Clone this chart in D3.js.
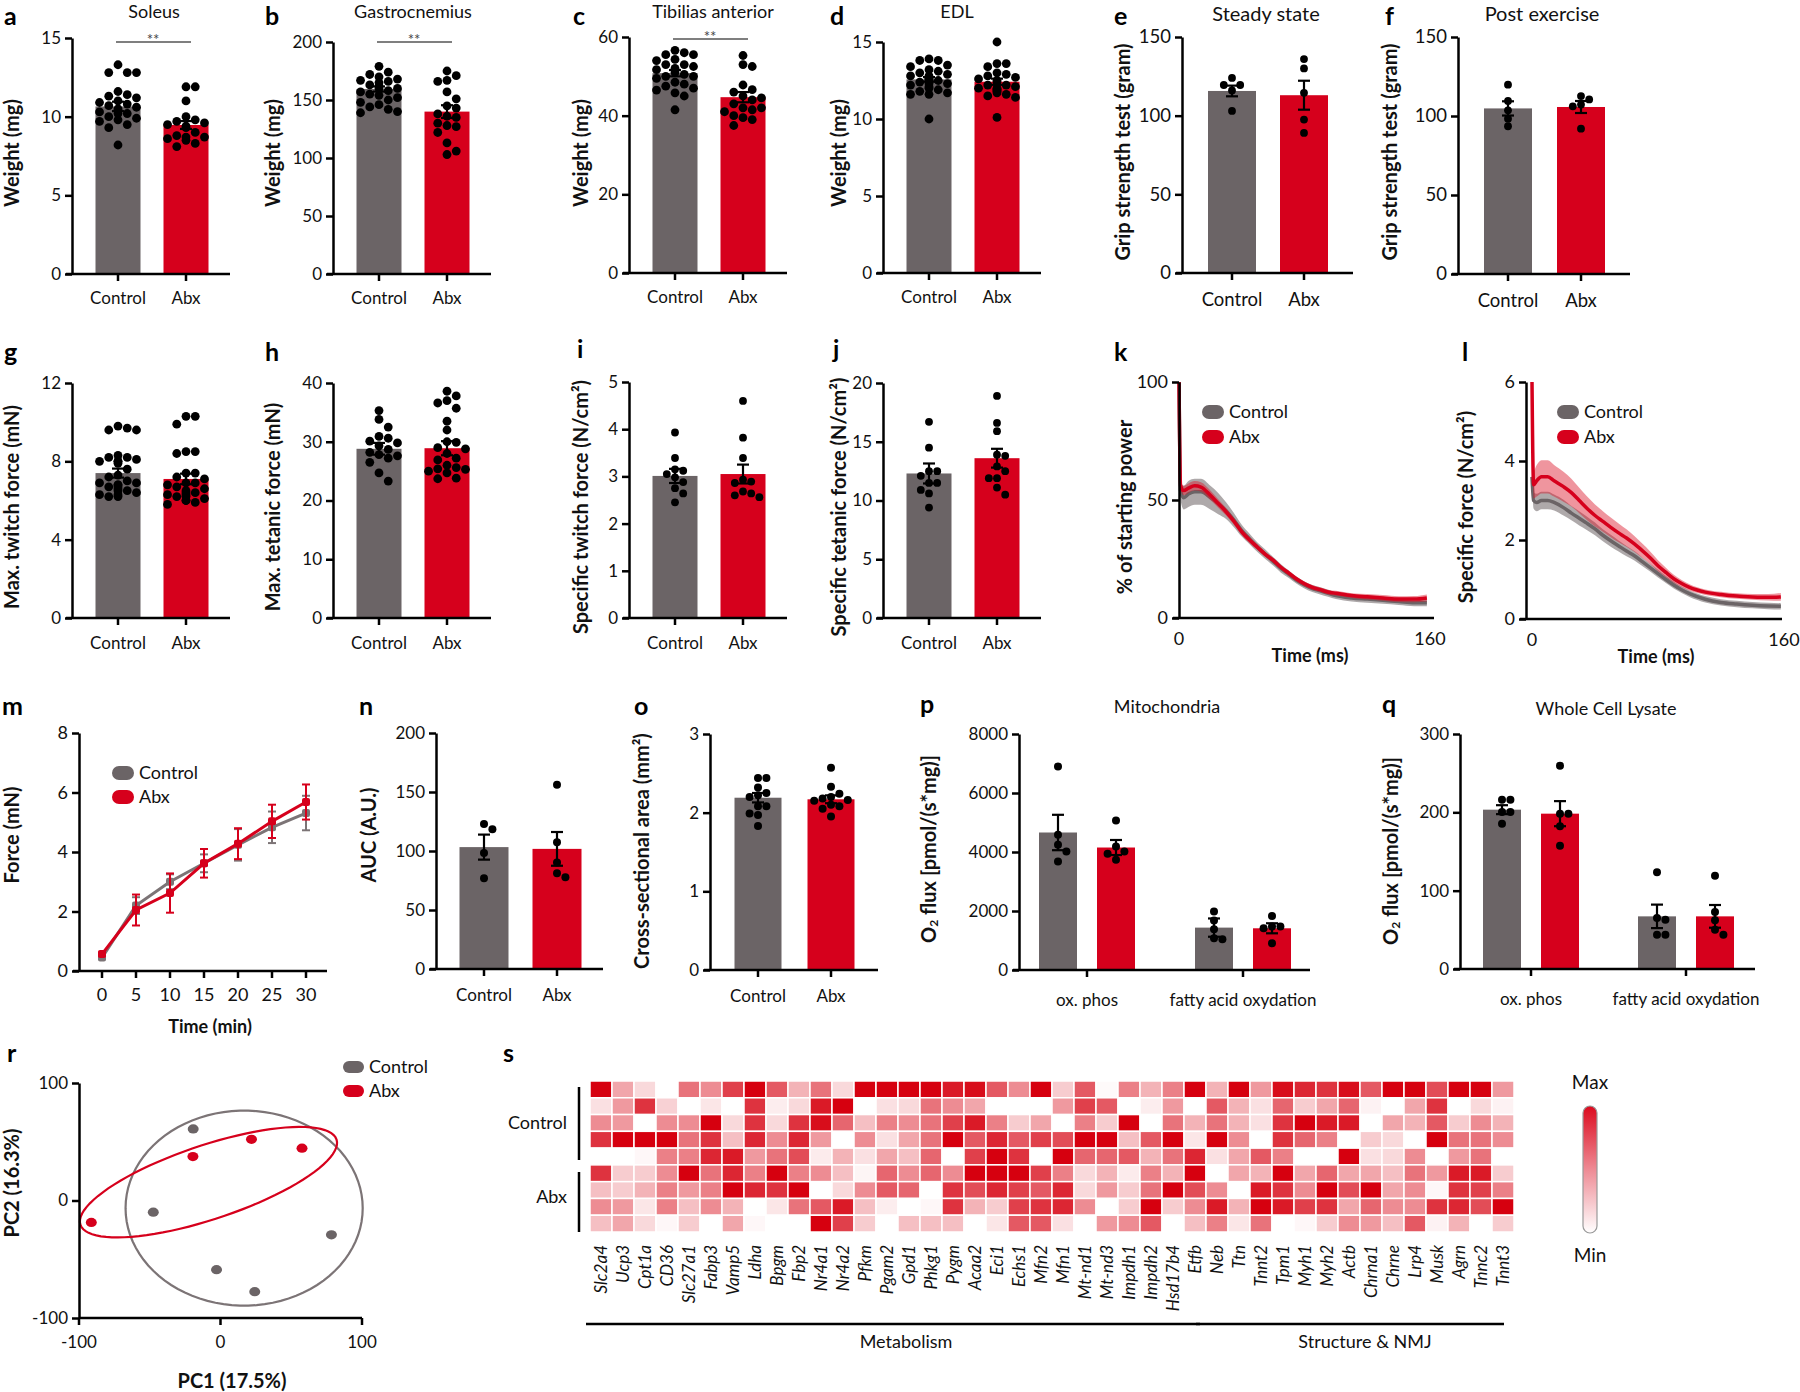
<!DOCTYPE html>
<html><head><meta charset="utf-8">
<script src="https://cdn.jsdelivr.net/npm/d3@7"></script>
<style>body{margin:0;background:#fff}</style>
</head><body>
<svg id="c" width="1800" height="1392" xmlns="http://www.w3.org/2000/svg"></svg>
<script>
// ---------------- DATA ----------------
const groups = ["Control", "Abx"];
// a Soleus
const soleusCtrl = [13.3,12.8,12.8,12.8,11.6,11.4,11.3,11.2,11.0,10.9,10.8,10.7,10.6,10.5,10.4,10.3,10.2,10.2,10.0,9.9,9.8,9.7,9.5,9.3,8.2];
const soleusAbx = [11.9,11.9,11.0,10.0,9.8,9.7,9.6,9.5,9.4,9.3,9.0,8.8,8.7,8.7,8.6,8.5,8.3,8.1];
const soleusMean = [10.65, 9.47], soleusSem = [0.3, 0.25];
// b Gastrocnemius
const gastroCtrl = [179,174,172,170,168,167,166,165,163,162,160,160,158,157,155,154,152,150,148,146,144,142,140,139];
const gastroAbx = [175,171,167,166,157,151,145,143,138,136,135,130,128,127,122,113,106,103];
const gastroMean = [159.5, 140], gastroSem = [2.2, 5.5];
// c Tibialis anterior
const tibCtrl = [56.6,56,55.5,55.5,54.3,54,53,53,52.5,52,51.7,51,50.5,50,50,49.5,48.5,48,47.5,47,46.5,45.8,45,41.5];
const tibAbx = [55.3,53,52.5,47.8,46.6,46,45,44.5,44,43,42,42,41.5,41,40,39.5,39,37.5];
const tibMean = [50.8, 44.7], tibSem = [0.8, 1.3];
// d EDL
const edlCtrl = [13.9,13.8,13.8,13.5,13.4,13.2,13.1,13.0,12.9,12.8,12.8,12.7,12.6,12.6,12.5,12.5,12.4,12.3,12.3,12.2,12.1,12.0,11.9,11.8,11.7,11.6,11.6,10.0];
const edlAbx = [15.0,13.6,13.6,13.4,13.0,12.9,12.8,12.7,12.6,12.5,12.4,12.2,12.2,12.1,12.0,12.0,11.9,11.9,11.8,11.7,11.6,11.5,11.4,10.1];
const edlMean = [12.57, 12.42], edlSem = [0.15, 0.2];
// e / f grip strength
const gripSteadyCtrl = [124,119.5,119.5,116,103];
const gripSteadyAbx = [136,130,114.5,97.5,89];
const gripSteadyMean = [115.7, 113], gripSteadySem = [3.4, 9.2];
const gripPostCtrl = [119.8,109.5,103.6,98.3,93.5];
const gripPostAbx = [112.6,110.5,107.2,106.1,92];
const gripPostMean = [104.8, 105.7], gripPostSem = [4.5, 3.8];
// g twitch
const twitchCtrl = [9.8,9.7,9.6,9.6,8.3,8.2,8.2,8.1,8.0,8.0,8.0,7.9,7.6,7.3,7.2,7.0,6.9,6.9,6.8,6.8,6.7,6.7,6.6,6.5,6.5,6.4,6.3,6.3,6.2,6.2];
const twitchAbx = [10.3,10.3,9.9,8.5,8.5,8.4,7.4,7.4,7.2,7.1,6.9,6.9,6.8,6.7,6.6,6.5,6.4,6.4,6.3,6.3,6.2,6.2,6.1,6.0,6.0,5.9,5.8];
const twitchMean = [7.4, 7.1], twitchSem = [0.23, 0.27];
// h tetanic
const tetCtrl = [35.3,33.8,32.5,30.9,30.6,30.1,29.8,29.3,28.7,28.2,27.8,27.6,27.2,26.5,24.7,23.3];
const tetAbx = [38.6,37.8,37.0,36.6,35.7,33.5,32.0,30.0,29.9,29.0,28.8,28.0,27.2,26.9,26.0,25.6,25.4,25.3,25.0,24.7,23.8,23.7];
const tetMean = [28.8, 28.9], tetSem = [1.0, 1.2];
// i specific twitch
const spTwCtrl = [3.93,3.39,3.15,3.12,3.05,2.98,2.88,2.75,2.64,2.45];
const spTwAbx = [4.6,3.82,3.39,2.93,2.89,2.86,2.68,2.64,2.6,2.56];
const spTwMean = [3.01, 3.05], spTwSem = [0.15, 0.2];
// j specific tetanic
const spTetCtrl = [16.7,14.5,12.5,12.5,12.1,11.5,11.5,10.9,10.6,9.4];
const spTetAbx = [18.9,16.6,15.9,13.9,13.8,12.9,12.5,11.9,11.9,11.1,10.5];
const spTetMean = [12.3, 13.6], spTetSem = [0.85, 0.8];
// k, l force decay curves
const decayTime = [0,1,3,6,10,14,20,25,30,35,40,45,50,55,60,65,70,75,80,85,90,95,100,110,120,130,140,150,158];
const powerAbx = [100,56,54,55,56,55.5,52,48.5,45,41,36.5,33,30,27,24.5,21.5,19,16.5,14.5,13,12,11,10.5,9.5,9,8.5,8,8,8.5];
const powerCtrl = [100,54,51,52.5,53.5,53.5,51,48.5,45.5,41.5,37,33.5,30,27,24,21,18.5,16,14,12.5,11.5,10.5,9.5,8.5,8,7.5,7,6.5,6.5];
const powerAbxSem = [0,2,2,2,2,2,2,1.8,1.6,1.5,1.4,1.3,1.2,1.1,1,1,1,1,1,1,1,1,1,1,1.2,1.2,1.2,1.3,1.5];
const powerCtrlSem = [0,4,5,5.5,5.5,5.5,5,4.5,3.5,3,2.5,2.2,2,2,1.8,1.8,1.6,1.5,1.5,1.5,1.5,1.5,1.5,1.5,1.5,1.5,1.5,1.5,1.5];
const spForceAbx = [6.0,3.4,3.5,3.6,3.6,3.5,3.35,3.2,3.0,2.8,2.62,2.47,2.32,2.18,2.05,1.9,1.73,1.55,1.35,1.18,1.02,0.9,0.8,0.68,0.62,0.58,0.56,0.55,0.56];
const spForceCtrl = [3.6,3.0,2.95,3.0,3.0,2.95,2.82,2.68,2.55,2.42,2.28,2.12,1.98,1.85,1.72,1.6,1.45,1.3,1.15,1.0,0.86,0.74,0.64,0.5,0.42,0.38,0.35,0.33,0.32];
const spForceAbxSem = [0,0.35,0.4,0.42,0.42,0.4,0.38,0.35,0.32,0.3,0.28,0.26,0.25,0.24,0.22,0.2,0.18,0.16,0.14,0.12,0.1,0.09,0.08,0.07,0.07,0.07,0.07,0.08,0.1];
const spForceCtrlSem = [0,0.2,0.22,0.22,0.22,0.2,0.2,0.18,0.18,0.17,0.16,0.15,0.15,0.14,0.13,0.12,0.11,0.1,0.1,0.09,0.09,0.08,0.08,0.08,0.08,0.08,0.08,0.08,0.08];
// m fatigue
const fatigueTime = [0,5,10,15,20,25,30];
const fatigueCtrl = [0.45,2.2,3.0,3.62,4.24,4.83,5.31];
const fatigueCtrlSem = [0.05,0.28,0.25,0.3,0.53,0.53,0.58];
const fatigueAbx = [0.57,2.05,2.62,3.62,4.28,5.03,5.68];
const fatigueAbxSem = [0.05,0.52,0.66,0.48,0.52,0.56,0.59];
// n AUC
const aucCtrl = [122.8,118.5,98.2,77], aucAbx = [156.2,107.5,90.2,81.2,77.8];
const aucMean = [103.3, 101.8], aucSem = [10.6, 14.3];
// o CSA
const csaCtrl = [2.44,2.44,2.32,2.25,2.22,2.2,2.08,2.08,1.99,1.97,1.83];
const csaAbx = [2.57,2.33,2.24,2.2,2.18,2.16,2.15,2.1,2.08,2.05,1.95];
const csaMean = [2.19, 2.17], csaSem = [0.06, 0.05];
// p, q respirometry
const respCats = ["ox. phos", "fatty acid oxydation"];
const mitoMeanCtrl = [4661, 1437], mitoMeanAbx = [4152, 1414];
const mitoSemCtrl = [600, 310], mitoSemAbx = [255, 170];
const mitoOxCtrl = [6902,4582,4243,4016,3677], mitoOxAbx = [5069,4186,4016,3937,3734];
const mitoFaCtrl = [1980,1674,1380,1075,1040], mitoFaAbx = [1833,1471,1471,1414,905];
const lysMeanCtrl = [203.4, 67.2], lysMeanAbx = [198.3, 67.2];
const lysSemCtrl = [5.7, 15], lysSemAbx = [16, 14.5];
const lysOxCtrl = [216.2,216.2,200.4,200.4,185.5], lysOxAbx = [259.6,198.3,198.3,182.1,157.4];
const lysFaCtrl = [123.4,65.1,63,43.8,43.8], lysFaAbx = [119.1,72.8,62.1,50.2,43.8];
// r PCA
const pcaCtrlX = [-19.3,-47.5,-2.8,24.2,78.4], pcaCtrlY = [60.9,-9.9,-58.9,-77.6,-29.2];
const pcaAbxX = [-91.3,-19.5,21.9,57.6], pcaAbxY = [-18.7,37.4,52.1,44.5];
const ellipseCtrl = {c:[16.7,-6.5], u:[83.8,0], v:[0,83]};
const ellipseAbx = {c:[-8.5,15.6], u:[90.5,36.3], v:[8.3,-29.9]};
// s heatmap
const genes = ["Slc2a4","Ucp3","Cpt1a","CD36","Slc27a1","Fabp3","Vamp5","Ldha","Bpgm","Fbp2","Nr4a1","Nr4a2","Pfkm","Pgam2","Gpd1","Phkg1","Pygm","Acaa2","Eci1","Echs1","Mfn2","Mfn1","Mt-nd1","Mt-nd3","Impdh1","Impdh2","Hsd17b4","Etfb","Neb","Ttn","Tnnt2","Tpm1","Myh1","Myh2","Actb","Chrna1","Chrne","Lrp4","Musk","Agrn","Tnnc2","Tnnt3"];
const sampleRows = ["C1","C2","C3","C4","C5","A1","A2","A3","A4"];
const heatValues = [
 [1.0,0.35,0.15,0,0.55,0.45,0.75,1.0,0.65,0.3,0.55,0.15,1.0,1.0,1.0,1.0,0.9,0.95,0.65,0.45,1.0,0.2,0.65,0.02,0.5,0.3,0.5,1.0,0.3,1.0,0.4,0.95,0.85,0.8,0.95,0.65,1.0,1.0,0.7,1.0,1.0,0.4],
 [0.12,0.4,0.8,0.18,0,0.1,0,0.8,0.07,0.15,0.9,1.0,0,0.12,0.15,0.55,0.45,0.35,0,0,0,0.4,0.75,0.65,0,0.07,0.4,0,0.65,0.3,0.12,0.6,0.2,0.35,0.6,0.05,0,0.35,0.8,0,0.15,0.05],
 [0.45,0.4,0,0.45,0.45,1.0,0.15,0.8,0.15,0.8,0.95,0.6,0.25,0.5,0.45,0.55,0.75,0.9,0.5,0.2,0.35,0,0.5,0.2,1.0,0,0.55,0.3,0.55,0.3,0.12,0.8,1.0,0.9,0.9,0,0.35,0.3,0.65,0.2,0.45,0.3],
 [0.8,1.0,1.0,1.0,0.55,0.8,0.25,0.85,0.45,0.85,0.4,0,0.45,0.12,0.35,0.55,1.0,0.65,0.85,0.65,0.75,0.7,1.0,1.0,0.25,0.65,1.0,0.1,1.0,0.45,0,0.8,0.6,0.5,0,0.2,0.15,0,1.0,0.55,0.55,0.45],
 [0,0,0.03,0.5,0.5,0.85,0.9,0.4,0.55,0.7,0.08,0.3,0.12,0.35,0.25,0.6,0,0.75,1.0,0.8,0,1.0,0.6,0.6,0.65,0.3,0.55,0.85,0.12,0.35,0.65,0.5,0,0,1.0,0.12,0.15,0.45,0,0.4,0.55,0],
 [0.8,0.2,0.2,0.45,1.0,0.55,0.85,0.5,1.0,0.5,0.45,0.25,0.04,0.6,0.45,0.6,0.45,1.0,1.0,1.0,0.75,0.5,0.15,0.3,0.08,0.5,0.3,1.0,0,0.35,0.3,1.0,0.35,0.6,0.35,0.35,0.25,0.55,0.4,0.9,0.9,0.2],
 [0.25,0.2,0.3,0.5,0.4,0.5,1.0,0.85,0.8,1.0,0,0.15,0.45,0.65,0.6,0,0.8,0.7,0.85,0.75,0.65,0.85,0.15,0.4,0.2,0.55,1.0,0.7,0.45,0,0.9,0.8,0.45,1.0,0.7,1.0,0.35,0.45,0.03,0.8,0.75,0.5],
 [0.45,0.4,0.1,0.5,0.25,0.45,0.3,0,0.1,0.55,0.65,0.9,0.25,0.07,0,0.03,0.8,0.3,0.2,0.75,0.8,0.85,0.45,0,0.2,1.0,0.2,0.45,0.9,0.3,1.0,0.9,0.75,0.8,0.35,0.6,0.45,0.45,0.8,0.85,0.7,1.0],
 [0.25,0.35,0.15,0.03,0.2,0,0.35,0.03,0,0,1.0,0.75,0.2,0,0.25,0.25,0.25,0,0.1,0.65,0.65,0.12,0,0.4,0.45,0.65,0,0.25,0.5,0.1,0.55,0,0.03,0.2,0.45,0.4,0.25,0.65,0.05,0.3,0,0.2]
];
const metabolismGenes = genes.slice(0, 28), structureGenes = genes.slice(28);

// ---------------- DRAWING ----------------
const svg = d3.select("#c");
const FONT = "Lato, 'Open Sans', 'DejaVu Sans', sans-serif";
const GRAY = "#6b6466", RED = "#d6001c", LINEGRAY = "#7c7476";
const TICK = 17, YLAB = 20;
const plain = d => String(d);

function txt(g, x, y, s, o = {}) {
  const t = g.append("text").attr("x", x).attr("y", y).text(s)
    .attr("font-family", FONT).attr("font-size", o.size || TICK).attr("fill", o.fill || "#111");
  if (o.anchor) t.attr("text-anchor", o.anchor);
  if (o.weight) t.attr("font-weight", o.weight);
  if (o.style) t.attr("font-style", o.style);
  if (o.base) t.attr("dominant-baseline", o.base);
  if (o.rot != null) t.attr("transform", `rotate(${o.rot},${x},${y})`);
  return t;
}
function ylab(g, x, y, s) { return txt(g, x, y, s, {anchor: "middle", rot: -90, weight: 700, size: YLAB, base: "central"}); }
function letter(g, x, y, s) { return txt(g, x, y, s, {weight: 700, size: 25, fill: "#000"}); }
function styleAxis(g, size) {
  g.select(".domain").attr("stroke", "#000").attr("stroke-width", 2.5);
  g.selectAll(".tick line").attr("stroke", "#000").attr("stroke-width", 2.5);
  g.selectAll(".tick text").attr("font-size", size || TICK).attr("font-family", FONT).attr("fill", "#111");
}
function yAxis(g, ax, y, ticks, size) {
  const a = d3.axisLeft(y).tickValues(ticks).tickSize(7).tickSizeOuter(0).tickPadding(4).tickFormat(plain);
  const ag = g.append("g").attr("transform", `translate(${ax},0)`).call(a);
  styleAxis(ag, size);
  return ag;
}
function hline(g, x1, x2, y, w = 2.5, c = "#000") {
  g.append("line").attr("x1", x1).attr("x2", x2).attr("y1", y).attr("y2", y).attr("stroke", c).attr("stroke-width", w);
}
function vline(g, x, y1, y2, w = 2.5, c = "#000") {
  g.append("line").attr("x1", x).attr("x2", x).attr("y1", y1).attr("y2", y2).attr("stroke", c).attr("stroke-width", w);
}
function swarm(vals, cx, y, r, maxOff) {
  const placed = [];
  const step = r * 2.1;
  return vals.slice().sort((a, b) => b - a).map(v => {
    const py = y(v);
    let best = null;
    for (let k = 0; k < 30 && !best; k++) {
      const off = k === 0 ? 0 : (k % 2 ? 1 : -1) * Math.ceil(k / 2) * step;
      if (Math.abs(off) > maxOff) continue;
      const px = cx + off;
      if (placed.every(p => Math.hypot(p[0] - px, p[1] - py) >= 2 * r * 0.97)) best = [px, py];
    }
    if (!best) best = [cx, py];
    placed.push(best);
    return best;
  });
}
function errBar(g, cx, y, m, s, cap = 12, col = "#000", w = 2.2) {
  vline(g, cx, y(m - s), y(m + s), w, col);
  hline(g, cx - cap / 2, cx + cap / 2, y(m + s), w, col);
  hline(g, cx - cap / 2, cx + cap / 2, y(m - s), w, col);
}
function dots(g, pts, r, fill = "#000") {
  g.selectAll(null).data(pts).enter().append("circle")
    .attr("cx", d => d[0]).attr("cy", d => d[1]).attr("r", r).attr("fill", fill);
}

function barPanel(o) {
  const g = svg.append("g");
  const y = d3.scaleLinear().domain([0, o.max]).range([o.y0, o.yTop]);
  const x = d3.scalePoint().domain(groups).range([o.ax + o.c1, o.ax + o.c2]);
  groups.forEach((k, i) => {
    g.append("rect").attr("x", x(k) - o.bw / 2).attr("width", o.bw)
      .attr("y", y(o.mean[i])).attr("height", o.y0 - y(o.mean[i])).attr("fill", [GRAY, RED][i]);
  });
  groups.forEach((k, i) => {
    errBar(g, x(k), y, o.mean[i], o.sem[i]);
    dots(g, swarm(o.pts[i], x(k), y, o.r, o.bw / 2 - o.r * 0.6), o.r);
  });
  yAxis(g, o.ax, y, o.ticks, o.fs);
  hline(g, o.ax - 6, o.ax + o.end, o.y0);
  groups.forEach(k => {
    vline(g, x(k), o.y0, o.y0 + 7);
    txt(g, x(k), o.y0 + o.lblOff, k, {anchor: "middle", size: o.fs || TICK});
  });
  ylab(g, o.ylx, o.yly, o.ylabel);
  if (o.title) txt(g, o.tx, o.ty, o.title, {anchor: "middle", size: o.tsize || 18});
  letter(g, o.lx, o.ly, o.letter);
  if (o.sigY) {
    hline(g, x("Control") - 2, x("Abx") + 5, o.sigY, 1.6, "#555");
    txt(g, (x("Control") + x("Abx")) / 2 + 1, o.sigY + 3, "**", {anchor: "middle", size: 15, fill: "#444"});
  }
  return g;
}

const row1 = {y0: 274, c1: 46, c2: 114, end: 158, bw: 45, r: 4.4, lblOff: 30, ly: 25, ty: 18, yly: 153};
barPanel({...row1, ax: 72, yTop: 38, max: 15, ticks: [0,5,10,15], mean: soleusMean, sem: soleusSem, pts: [soleusCtrl, soleusAbx],
  ylabel: "Weight (mg)", ylx: 11, title: "Soleus", tx: 154, letter: "a", lx: 4, sigY: 42});
barPanel({...row1, ax: 333, yTop: 42, max: 200, ticks: [0,50,100,150,200], mean: gastroMean, sem: gastroSem, pts: [gastroCtrl, gastroAbx],
  ylabel: "Weight (mg)", ylx: 272, title: "Gastrocnemius", tx: 413, letter: "b", lx: 265, sigY: 42});
barPanel({...row1, ax: 629, y0: 273, yTop: 37, max: 60, ticks: [0,20,40,60], mean: tibMean, sem: tibSem, pts: [tibCtrl, tibAbx],
  ylabel: "Weight (mg)", ylx: 580, title: "Tibilias anterior", tx: 713, letter: "c", lx: 573, sigY: 39});
barPanel({...row1, ax: 883, y0: 273, yTop: 42, max: 15, ticks: [0,5,10,15], mean: edlMean, sem: edlSem, pts: [edlCtrl, edlAbx],
  ylabel: "Weight (mg)", ylx: 838, title: "EDL", tx: 957, letter: "d", lx: 830});
barPanel({...row1, ax: 1182, y0: 273, yTop: 37, max: 150, ticks: [0,50,100,150], c1: 50, c2: 122, end: 171, bw: 48, r: 3.9, fs: 18.5,
  mean: gripSteadyMean, sem: gripSteadySem, pts: [gripSteadyCtrl, gripSteadyAbx],
  ylabel: "Grip strength test (gram)", ylx: 1122, yly: 152, title: "Steady state", tx: 1266, ty: 21, tsize: 20, letter: "e", lx: 1114, lblOff: 33});
barPanel({...row1, ax: 1458, y0: 274, yTop: 37, max: 150, ticks: [0,50,100,150], c1: 50, c2: 123, end: 172, bw: 48, r: 3.9, fs: 18.5,
  mean: gripPostMean, sem: gripPostSem, pts: [gripPostCtrl, gripPostAbx],
  ylabel: "Grip strength test (gram)", ylx: 1389, yly: 152, title: "Post exercise", tx: 1542, ty: 21, tsize: 20, letter: "f", lx: 1385, lblOff: 33});

const row2 = {y0: 618, yTop: 383, c1: 46, c2: 114, end: 158, bw: 45, r: 4.4, lblOff: 31, ly: 361, yly: 507};
barPanel({...row2, ax: 72, max: 12, ticks: [0,4,8,12], mean: twitchMean, sem: twitchSem, pts: [twitchCtrl, twitchAbx],
  ylabel: "Max. twitch force (mN)", ylx: 11, letter: "g", lx: 4});
barPanel({...row2, ax: 333, max: 40, ticks: [0,10,20,30,40], mean: tetMean, sem: tetSem, pts: [tetCtrl, tetAbx],
  ylabel: "Max. tetanic force (mN)", ylx: 272, letter: "h", lx: 265});
barPanel({...row2, ax: 629, yTop: 382, max: 5, ticks: [0,1,2,3,4,5], r: 3.9, mean: spTwMean, sem: spTwSem, pts: [spTwCtrl, spTwAbx],
  ylabel: "Specific twitch force (N/cm²)", ylx: 580, letter: "i", lx: 577, ly: 358});
barPanel({...row2, ax: 883, max: 20, ticks: [0,5,10,15,20], r: 3.9, mean: spTetMean, sem: spTetSem, pts: [spTetCtrl, spTetAbx],
  ylabel: "Specific tetanic force (N/cm²)", ylx: 838, letter: "j", lx: 833, ly: 358});

const row3 = {c1: 48, c2: 121, r: 4, lblOff: 32, ly: 715};
barPanel({...row3, ax: 436, y0: 969, yTop: 733, max: 200, ticks: [0,50,100,150,200], end: 167, bw: 49,
  mean: aucMean, sem: aucSem, pts: [aucCtrl, aucAbx], ylabel: "AUC (A.U.)", ylx: 368, yly: 835, letter: "n", lx: 359});
barPanel({...row3, ax: 710, y0: 970, yTop: 734, max: 3, ticks: [0,1,2,3], end: 168, bw: 47,
  mean: csaMean, sem: csaSem, pts: [csaCtrl, csaAbx], ylabel: "Cross-sectional area (mm²)", ylx: 641, yly: 851, letter: "o", lx: 634});

// grouped panels p, q
function groupedPanel(o) {
  const g = svg.append("g");
  const y = d3.scaleLinear().domain([0, o.max]).range([o.y0, o.yTop]);
  const xc = d3.scalePoint().domain(respCats).range([o.ax + o.c1, o.ax + o.c2]);
  const xg = d3.scalePoint().domain(groups).range([-o.off, o.off]);
  respCats.forEach((cat, ci) => {
    groups.forEach((gr, gi) => {
      const cx = xc(cat) + xg(gr);
      const m = o.mean[gi][ci];
      g.append("rect").attr("x", cx - o.bw / 2).attr("width", o.bw).attr("y", y(m)).attr("height", o.y0 - y(m)).attr("fill", [GRAY, RED][gi]);
    });
  });
  respCats.forEach((cat, ci) => {
    groups.forEach((gr, gi) => {
      const cx = xc(cat) + xg(gr);
      errBar(g, cx, y, o.mean[gi][ci], o.sem[gi][ci]);
      dots(g, swarm(o.pts[gi][ci], cx, y, o.r, o.bw / 2 - 3), o.r);
    });
  });
  yAxis(g, o.ax, y, o.ticks);
  hline(g, o.ax - 6, o.ax + o.end, o.y0);
  respCats.forEach(cat => {
    vline(g, xc(cat), o.y0, o.y0 + 7);
    txt(g, xc(cat), o.y0 + 36, cat, {anchor: "middle"});
  });
  const t = g.append("text").attr("transform", `translate(${o.ylx},${o.yly}) rotate(-90)`).attr("text-anchor", "middle")
    .attr("dominant-baseline", "central").attr("font-family", FONT).attr("font-weight", 700).attr("font-size", YLAB).attr("fill", "#111");
  t.append("tspan").text("O");
  t.append("tspan").text("2").attr("font-size", 12).attr("dy", 5);
  t.append("tspan").text(" flux [pmol/(s*mg)]").attr("dy", -5);
  txt(g, o.tx, o.ty, o.title, {anchor: "middle", size: 18});
  letter(g, o.lx, o.ly, o.letter);
}
groupedPanel({ax: 1019, y0: 970, yTop: 734, max: 8000, ticks: [0,2000,4000,6000,8000], c1: 68, c2: 224, end: 291, off: 29, bw: 38, r: 4,
  mean: [mitoMeanCtrl, mitoMeanAbx], sem: [mitoSemCtrl, mitoSemAbx], pts: [[mitoOxCtrl, mitoFaCtrl], [mitoOxAbx, mitoFaAbx]],
  ylx: 928, yly: 849, title: "Mitochondria", tx: 1167, ty: 713, letter: "p", lx: 920, ly: 713});
groupedPanel({ax: 1460, y0: 969, yTop: 734, max: 300, ticks: [0,100,200,300], c1: 71, c2: 226, end: 295, off: 29, bw: 38, r: 4,
  mean: [lysMeanCtrl, lysMeanAbx], sem: [lysSemCtrl, lysSemAbx], pts: [[lysOxCtrl, lysFaCtrl], [lysOxAbx, lysFaAbx]],
  ylx: 1390, yly: 851, title: "Whole Cell Lysate", tx: 1606, ty: 715, letter: "q", lx: 1382, ly: 713});

// legend helper
function legend(g, x, y, dy, size = 18) {
  groups.forEach((k, i) => {
    g.append("rect").attr("x", x - 11).attr("y", y + i * dy - 7).attr("width", 22).attr("height", 14).attr("rx", 7).attr("fill", [GRAY, RED][i]);
    txt(g, x + 16, y + i * dy + 6, k, {size});
  });
}

// k, l curves
function curvePanel(o) {
  const g = svg.append("g");
  const y = d3.scaleLinear().domain([0, o.max]).range([o.y0, o.yTop]);
  const x = d3.scaleLinear().domain([0, 160]).range([o.x0, o.x1]);
  const series = [[o.ctrl, o.ctrlSem, GRAY, "rgba(120,112,114,0.6)"], [o.abx, o.abxSem, RED, "rgba(220,20,40,0.45)"]];
  series.forEach(([m, s, col, band]) => {
    const area = d3.area().x((d, i) => x(decayTime[i])).y0((d, i) => y(m[i] - s[i])).y1((d, i) => y(m[i] + s[i])).curve(d3.curveMonotoneX);
    g.append("path").attr("d", area(m)).attr("fill", band);
    g.append("path").attr("d", d3.line().x((d, i) => x(decayTime[i])).y(d => y(d)).curve(d3.curveMonotoneX)(m))
      .attr("fill", "none").attr("stroke", col).attr("stroke-width", 3.5);
  });
  yAxis(g, o.ax, y, o.ticks, 18);
  hline(g, o.ax - 6, o.xEnd, o.y0);
  txt(g, x(0), o.y0 + 27, "0", {anchor: "middle", size: 18});
  txt(g, x(160), o.y0 + 27, "160", {anchor: "middle", size: 18});
  txt(g, o.xlx, o.y0 + 44, "Time (ms)", {anchor: "middle", weight: 700, size: 18});
  ylab(g, o.ylx, 507, o.ylabel);
  legend(g, o.legX, 412, 25);
  letter(g, o.lx, 361, o.letter);
}
curvePanel({ax: 1179, y0: 618, yTop: 382, max: 100, ticks: [0,50,100], x0: 1179, x1: 1430, xEnd: 1434,
  ctrl: powerCtrl, ctrlSem: powerCtrlSem, abx: powerAbx, abxSem: powerAbxSem,
  xlx: 1310, ylx: 1124, ylabel: "% of starting power", legX: 1213, lx: 1114, letter: "k"});
curvePanel({ax: 1526, y0: 619, yTop: 382, max: 6, ticks: [0,2,4,6], x0: 1532, x1: 1784, xEnd: 1782,
  ctrl: spForceCtrl, ctrlSem: spForceCtrlSem, abx: spForceAbx, abxSem: spForceAbxSem,
  xlx: 1656, ylx: 1465, ylabel: "Specific force (N/cm²)", legX: 1568, lx: 1462, letter: "l"});

// m fatigue line chart
(function () {
  const g = svg.append("g");
  const y = d3.scaleLinear().domain([0, 8]).range([971, 733]);
  const x = d3.scaleLinear().domain([0, 30]).range([102, 306]);
  [[fatigueCtrl, fatigueCtrlSem, LINEGRAY], [fatigueAbx, fatigueAbxSem, RED]].forEach(([m, s, col]) => {
    g.append("path").attr("d", d3.line().x((d, i) => x(fatigueTime[i])).y(d => y(d))(m))
      .attr("fill", "none").attr("stroke", col).attr("stroke-width", 3);
    m.forEach((v, i) => errBar(g, x(fatigueTime[i]), y, v, s[i], 8, col, 2));
    g.selectAll(null).data(m).enter().append("rect")
      .attr("x", (d, i) => x(fatigueTime[i]) - 4).attr("y", d => y(d) - 4).attr("width", 8).attr("height", 8).attr("rx", 2).attr("fill", col);
  });
  yAxis(g, 79, y, [0,2,4,6,8], 18);
  hline(g, 73, 327, 971);
  fatigueTime.forEach(t => { vline(g, x(t), 971, 978); txt(g, x(t), 1001, t, {anchor: "middle", size: 18}); });
  txt(g, 210, 1033, "Time (min)", {anchor: "middle", weight: 700, size: 18});
  ylab(g, 11, 835, "Force (mN)");
  legend(g, 123, 773, 24);
  letter(g, 2, 715, "m");
})();

// r PCA
(function () {
  const g = svg.append("g");
  const x = d3.scaleLinear().domain([-100, 100]).range([79, 362]);
  const y = d3.scaleLinear().domain([-100, 100]).range([1318, 1083]);
  const ell = e => {
    const pts = d3.range(0, 361, 4).map(a => {
      const t = a * Math.PI / 180;
      return [x(e.c[0] + e.u[0] * Math.cos(t) + e.v[0] * Math.sin(t)), y(e.c[1] + e.u[1] * Math.cos(t) + e.v[1] * Math.sin(t))];
    });
    return d3.line().curve(d3.curveLinearClosed)(pts);
  };
  g.append("path").attr("d", ell(ellipseCtrl)).attr("fill", "none").attr("stroke", LINEGRAY).attr("stroke-width", 2.2);
  g.append("path").attr("d", ell(ellipseAbx)).attr("fill", "none").attr("stroke", RED).attr("stroke-width", 2.2);
  g.selectAll(null).data(pcaCtrlX).enter().append("ellipse").attr("cx", d => x(d)).attr("cy", (d, i) => y(pcaCtrlY[i])).attr("rx", 5.5).attr("ry", 4.6).attr("fill", GRAY);
  g.selectAll(null).data(pcaAbxX).enter().append("ellipse").attr("cx", d => x(d)).attr("cy", (d, i) => y(pcaAbxY[i])).attr("rx", 5.5).attr("ry", 4.6).attr("fill", RED);
  yAxis(g, 79, y, [-100, 0, 100]);
  hline(g, 79, 362, 1318);
  [-100, 0, 100].forEach(t => { vline(g, x(t), 1318, 1325); txt(g, x(t), 1348, t, {anchor: "middle"}); });
  txt(g, 232, 1388, "PC1 (17.5%)", {anchor: "middle", weight: 700, size: YLAB});
  ylab(g, 11, 1183, "PC2 (16.3%)");
  groups.forEach((k, i) => {
    g.append("rect").attr("x", 343).attr("y", 1067 + i * 24 - 6).attr("width", 21).attr("height", 12).attr("rx", 6).attr("fill", [GRAY, RED][i]);
    txt(g, 369, 1067 + i * 24 + 6, k, {size: 18});
  });
  letter(g, 7, 1062, "r");
})();

// s heatmap
(function () {
  const g = svg.append("g");
  const x = d3.scaleBand().domain(genes).range([590, 1514]);
  const y = d3.scaleBand().domain(sampleRows).range([1081, 1232]);
  const col = d3.scaleLinear().domain([0, 1]).range(["#ffffff", "#d6000f"]).interpolate(d3.interpolateRgb);
  heatValues.forEach((row, ri) => {
    g.selectAll(null).data(row).enter().append("rect")
      .attr("x", (d, ci) => x(genes[ci])).attr("y", y(sampleRows[ri]))
      .attr("width", x.bandwidth()).attr("height", y.bandwidth())
      .attr("fill", d => col(d)).attr("stroke", "#fff").attr("stroke-width", 1.5);
  });
  genes.forEach(gn => txt(g, x(gn) + x.bandwidth() / 2 + 6, 1245, gn, {anchor: "end", style: "italic", size: 17, rot: -90}));
  vline(g, 579, 1087, 1160);
  vline(g, 579, 1172, 1232);
  txt(g, 567, 1129, "Control", {anchor: "end", size: 18});
  txt(g, 567, 1203, "Abx", {anchor: "end", size: 18});
  hline(g, x(metabolismGenes[0]) - 4, x(metabolismGenes[27]) + x.bandwidth() - 6, 1324);
  hline(g, x(structureGenes[0]) - 10, x(structureGenes[13]) + x.bandwidth() - 10, 1324);
  txt(g, 906, 1348, "Metabolism", {anchor: "middle", size: 18});
  txt(g, 1365, 1348, "Structure & NMJ", {anchor: "middle", size: 18});
  const defs = svg.append("defs");
  const gr = defs.append("linearGradient").attr("id", "hg").attr("x1", 0).attr("x2", 0).attr("y1", 0).attr("y2", 1);
  gr.append("stop").attr("offset", "0%").attr("stop-color", "#dc0a1e");
  gr.append("stop").attr("offset", "50%").attr("stop-color", "#ee8a94");
  gr.append("stop").attr("offset", "100%").attr("stop-color", "#ffffff");
  g.append("rect").attr("x", 1583).attr("y", 1106).attr("width", 14).attr("height", 127).attr("rx", 7)
    .attr("fill", "url(#hg)").attr("stroke", "#999").attr("stroke-width", 1.2);
  txt(g, 1590, 1089, "Max", {anchor: "middle", size: 19});
  txt(g, 1590, 1262, "Min", {anchor: "middle", size: 19});
  letter(g, 503, 1062, "s");
})();
</script>
</body></html>
